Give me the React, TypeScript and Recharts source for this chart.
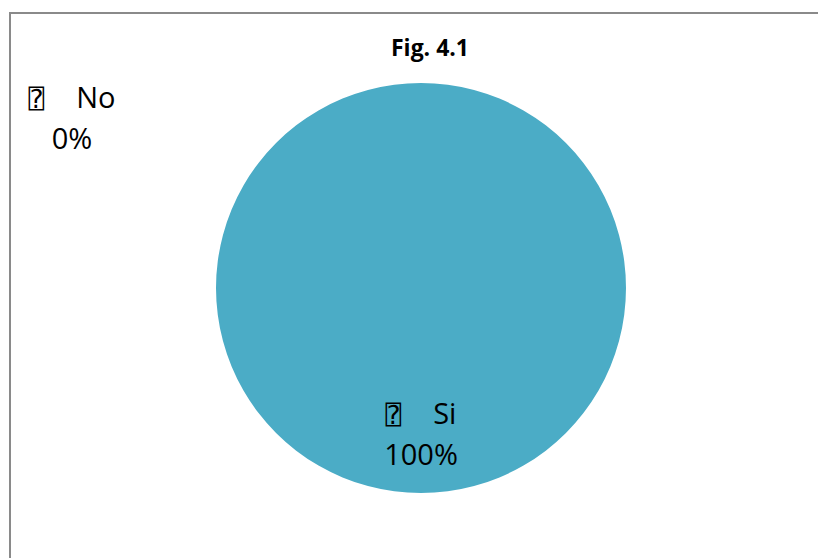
import { Cell, Pie, PieChart } from "recharts";

const NAMES = ["Si", "No"];
const VALUES = [100, 0];
const COLORS = ["#4BACC6", "#C0504D"];
const TITLE = "Fig. 4.1";

const data = NAMES.map((name, i) => ({ name, value: VALUES[i] }));

const RAD = Math.PI / 180;
const LABEL_FONT = "'Open Sans', 'Liberation Sans', sans-serif";

function PieLabel(props: any) {
  const { cx, cy, outerRadius, midAngle, name, percent } = props;
  let x: number;
  let y: number;
  if (percent === 0) {
    // zero slice: Excel pushes it out to the upper left
    x = 72;
    y = 108;
  } else {
    const r = outerRadius * 0.72;
    x = cx + r * Math.cos(-midAngle * RAD);
    y = cy + r * Math.sin(-midAngle * RAD) - 12;
  }
  return (
    <text x={x} y={y} textAnchor="middle" fill="#000" fontFamily={LABEL_FONT} fontSize={29}>
      <tspan fontFamily="'DejaVu Sans', 'DejaVu Sans Mono'" fontSize={26}>⍰</tspan>
      <tspan dx={32}>{name}</tspan>
      <tspan x={x} dy={41}>{`${Math.round(percent * 100)}%`}</tspan>
    </text>
  );
}

export default function App() {
  return (
    <div style={{ position: "absolute", left: 0, top: 0, width: 818, height: 558, background: "#fff", overflow: "hidden" }}>
      <div
        style={{
          position: "absolute", left: 9, top: 12, width: 830, height: 580,
          border: "2px solid #8a8a8a", boxSizing: "border-box",
        }}
      />
      <PieChart
        width={818}
        height={558}
        margin={{ top: 0, right: 0, bottom: 0, left: 0 }}
        style={{ position: "absolute", left: 0, top: 0 }}
      >
        <text x={430} y={56} textAnchor="middle" fontFamily={LABEL_FONT} fontWeight="bold" fontSize={23} fill="#000">
          {TITLE}
        </text>
        <Pie
          data={data}
          dataKey="value"
          nameKey="name"
          cx={421}
          cy={288}
          outerRadius={205}
          startAngle={90}
          endAngle={-270}
          stroke="none"
          label={PieLabel}
          labelLine={false}
          isAnimationActive={false}
        >
          {data.map((d, i) => (
            <Cell key={d.name} fill={COLORS[i]} />
          ))}
        </Pie>
      </PieChart>
    </div>
  );
}
